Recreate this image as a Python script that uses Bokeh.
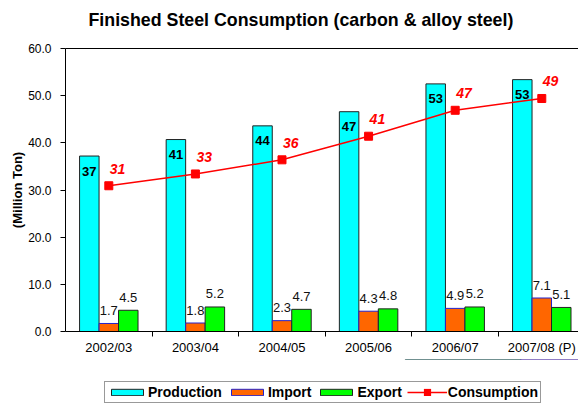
from bokeh.plotting import figure
from bokeh.layouts import column
from bokeh.models import FixedTicker, LinearAxis, Range1d, Legend, LegendItem, Title
from bokeh.core.properties import value
from bokeh.embed import file_html
from bokeh.resources import INLINE

# ---- data ----
years = ["2002/03", "2003/04", "2004/05", "2005/06", "2006/07", "2007/08 (P)"]
production = [37.2, 40.7, 43.6, 46.6, 52.5, 53.4]
production_labels = ["37", "41", "44", "47", "53", "53"]
imports = [1.7, 1.8, 2.3, 4.3, 4.9, 7.1]
exports = [4.5, 5.2, 4.7, 4.8, 5.2, 5.1]
consumption = [30.9, 33.4, 36.4, 41.4, 46.9, 49.4]
consumption_labels = ["31", "33", "36", "41", "47", "49"]
y_ticks = [0, 10, 20, 30, 40, 50, 60]
y_tick_labels = ["0.0", "10.0", "20.0", "30.0", "40.0", "50.0", "60.0"]

import_labels = [f"{v:.1f}" for v in imports]
export_labels = [f"{v:.1f}" for v in exports]

FONT = "Liberation Sans"
C_PROD, C_IMP, C_EXP, C_CONS = "#00FFFF", "#FF6600", "#00FF00", "#FF0000"
L_PROD, L_IMP, L_EXP = "#222222", "#2222CC", "#222222"
BAR_W = 0.225
centers = [i + 1 for i in range(len(years))]
x_prod = [c - BAR_W for c in centers]
x_exp = [c + BAR_W for c in centers]
boundaries = [c + 0.5 for c in centers[:-1]]

p = figure(width=578, height=359, x_range=Range1d(0.5, 6.424), y_range=Range1d(0, 60),
           output_backend="svg", toolbar_location=None,
           min_border_left=65, min_border_right=0, min_border_top=48, min_border_bottom=28,
           outline_line_color=None, background_fill_color="white", border_fill_color="white")
p.xgrid.visible = False
p.ygrid.visible = False

p.title.text = "Finished Steel Consumption (carbon & alloy steel)"
p.title.text_font = FONT
p.title.text_font_size = "17.8px"
p.title.text_font_style = "bold"
p.title.text_color = "black"
p.title.align = "left"
p.title.offset = 23
p.title.standoff = 0

# ---- bars ----
p.vbar(x=x_prod, top=production, width=BAR_W, bottom=0,
       fill_color=C_PROD, line_color=L_PROD, line_width=1)
p.vbar(x=centers, top=imports, width=BAR_W, bottom=0,
       fill_color=C_IMP, line_color=L_IMP, line_width=1)
p.vbar(x=x_exp, top=exports, width=BAR_W, bottom=0,
       fill_color=C_EXP, line_color=L_EXP, line_width=1)

# ---- consumption line ----
p.line(centers, consumption, line_color=C_CONS, line_width=1.5)
p.scatter(centers, consumption, marker="square", size=8,
          fill_color=C_CONS, line_color=C_CONS)

# ---- data labels ----
p.text(x=x_prod, y=production, text=production_labels, text_align="center",
       text_baseline="middle", y_offset=15, text_font=value(FONT),
       text_font_style="bold", text_font_size="13px", text_color="black")
p.text(x=centers, y=imports, text=import_labels, text_align="center",
       text_baseline="alphabetic", y_offset=-13, text_font=value(FONT),
       text_font_size="13px", text_color="#111111")
p.text(x=x_exp, y=exports, text=export_labels, text_align="center",
       text_baseline="alphabetic", y_offset=-13, text_font=value(FONT),
       text_font_size="13px", text_color="#111111")
p.text(x=centers, y=consumption, text=consumption_labels, text_align="left",
       text_baseline="alphabetic", x_offset=1, y_offset=-17, text_font=value(FONT),
       text_font_style="bold italic", text_font_size="14px", text_color=C_CONS)

# ---- axes ----
xa = p.xaxis[0]
xa.ticker = FixedTicker(ticks=centers, minor_ticks=boundaries)
xa.major_label_overrides = {c: y for c, y in zip(centers, years)}
xa.major_tick_out = 0
xa.major_tick_in = 0
xa.minor_tick_out = 5
xa.minor_tick_in = 0
xa.minor_tick_line_color = "black"
xa.axis_line_color = "black"
xa.major_label_standoff = 3
xa.major_label_text_font = FONT
xa.major_label_text_font_size = "13px"
xa.major_label_text_color = "black"

ya = p.yaxis[0]
ya.ticker = FixedTicker(ticks=y_ticks)
ya.major_label_overrides = dict(zip(y_ticks, y_tick_labels))
ya.major_tick_out = 5
ya.major_tick_in = 0
ya.minor_tick_out = 0
ya.minor_tick_in = 0
ya.axis_line_color = "black"
ya.major_tick_line_color = "black"
ya.major_label_standoff = 9
ya.major_label_text_font = FONT
ya.major_label_text_font_size = "12px"
ya.major_label_text_color = "black"
ya.axis_label = "(Million Ton)"
ya.axis_label_text_font = FONT
ya.axis_label_text_font_size = "13px"
ya.axis_label_text_font_style = "bold"
ya.axis_label_text_color = "black"
ya.axis_label_standoff = 0

top_axis = LinearAxis(ticker=FixedTicker(ticks=[]), axis_line_color="black",
                      major_tick_out=0, major_tick_in=0, minor_tick_out=0, minor_tick_in=0,
                      major_label_text_font_size="0px")
p.add_layout(top_axis, "above")
# blank spacer between the plot-area top line and the title
p.add_layout(Title(text=" ", text_font=FONT, text_font_size="10px", standoff=6), "above")

# ---- legend strip (small figure below, holding the legend) ----
# its ranges are set away from the data so the swatch renderers draw nothing visible
q = figure(width=578, height=46, x_range=Range1d(0, 1), y_range=Range1d(-100, -99),
           output_backend="svg", toolbar_location=None,
           x_axis_location=None, y_axis_location=None,
           min_border_left=0, min_border_right=0, min_border_top=0, min_border_bottom=0,
           outline_line_color=None, background_fill_color="white", border_fill_color="white")
q.xgrid.visible = False
q.ygrid.visible = False
g_prod = q.vbar(x=x_prod, top=production, width=BAR_W, fill_color=C_PROD,
                line_color=L_PROD, line_width=1)
g_imp = q.vbar(x=centers, top=imports, width=BAR_W, fill_color=C_IMP,
               line_color=L_IMP, line_width=1)
g_exp = q.vbar(x=x_exp, top=exports, width=BAR_W, fill_color=C_EXP,
               line_color=L_EXP, line_width=1)
g_line = q.line(x=centers, y=consumption, line_color=C_CONS, line_width=1.5)
g_mark = q.scatter(x=centers, y=consumption, marker="square", size=8, fill_color=C_CONS,
                   line_color=C_CONS, line_width=4, line_join="miter")

legend = Legend(items=[LegendItem(label="Production", renderers=[g_prod]),
                       LegendItem(label="Import", renderers=[g_imp]),
                       LegendItem(label="Export", renderers=[g_exp]),
                       LegendItem(label="Consumption", renderers=[g_line, g_mark])],
                orientation="horizontal", location=(39, 2),
                glyph_width=40, glyph_height=8, label_standoff=1, spacing=5,
                padding=2, margin=0, label_height=13,
                label_text_font=FONT, label_text_font_size="14px",
                label_text_font_style="bold", label_text_color="black",
                border_line_color="#333333", background_fill_color="white",
                background_fill_alpha=1)
q.add_layout(legend)

layout = column(p, q, spacing=0)
open("out.html", "w").write(file_html(layout, INLINE))
